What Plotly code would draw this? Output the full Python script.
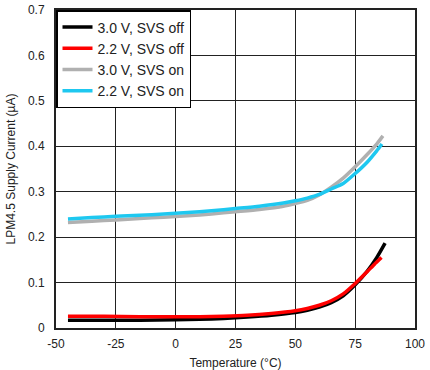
import plotly.graph_objects as go

temp_off = [-45, -30, -15, 0, 10, 20, 30, 40, 50, 55, 60, 65, 70, 75, 80, 84, 87.5]
i_30_off = [0.017, 0.017, 0.017, 0.018, 0.019, 0.021, 0.024, 0.028, 0.034, 0.039, 0.046, 0.056, 0.071, 0.095, 0.125, 0.155, 0.187]
temp_off22 = [-45, -30, -15, 0, 10, 20, 30, 40, 50, 55, 60, 65, 70, 75, 80, 83, 86]
i_22_off = [0.026, 0.026, 0.025, 0.025, 0.025, 0.026, 0.028, 0.032, 0.038, 0.043, 0.050, 0.060, 0.075, 0.098, 0.124, 0.140, 0.155]

temp_on30 = [-45, -35, -25, -15, -5, 5, 15, 25, 35, 45, 50, 55, 60, 65, 70, 75, 80, 84, 86.6]
i_30_on = [0.232, 0.235, 0.238, 0.241, 0.244, 0.247, 0.251, 0.256, 0.261, 0.268, 0.274, 0.281, 0.293, 0.310, 0.330, 0.355, 0.382, 0.405, 0.423]
temp_on22 = [-45, -35, -25, -15, -5, 5, 15, 25, 35, 45, 50, 55, 60, 65, 70, 75, 80, 84, 86.2]
i_22_on = [0.240, 0.243, 0.246, 0.248, 0.251, 0.254, 0.258, 0.263, 0.268, 0.275, 0.280, 0.286, 0.294, 0.306, 0.318, 0.340, 0.365, 0.390, 0.405]

names = ["3.0 V, SVS off", "2.2 V, SVS off", "3.0 V, SVS on", "2.2 V, SVS on"]
colors = ["#000000", "#ff0000", "#b0b0b0", "#1ec8f0"]

x_tickvals = [-50, -25, 0, 25, 50, 75, 100]
x_ticktext = ["-50", "-25", "0", "25", "50", "75", "100"]
y_tickvals = [0, 0.1, 0.2, 0.3, 0.4, 0.5, 0.6, 0.7]
y_ticktext = ["0", "0.1", "0.2", "0.3", "0.4", "0.5", "0.6", "0.7"]

fig = go.Figure()
series = [(temp_off, i_30_off), (temp_off22, i_22_off), (temp_on30, i_30_on), (temp_on22, i_22_on)]
for k, (x, y) in enumerate(series):
    fig.add_trace(go.Scatter(x=x, y=y, mode="lines", name=names[k],
                             line=dict(color=colors[k], width=3.5, shape="spline", smoothing=0.6),
                             legendgroup=str(k)))

fig.update_layout(
    width=430, height=370,
    margin=dict(l=56, r=15, t=10, b=42, autoexpand=False),
    paper_bgcolor="white", plot_bgcolor="white",
    font=dict(family="Liberation Sans, Arial, sans-serif", size=12, color="#222"),
    showlegend=True,
    legend=dict(x=0, y=1, xanchor="left", yanchor="top", bgcolor="white",
                bordercolor="black", borderwidth=1.5, traceorder="grouped",
                tracegroupgap=0, font=dict(size=14, color="#222")),
    xaxis=dict(range=[-50, 100], tickvals=x_tickvals, ticktext=x_ticktext, showgrid=True,
               gridcolor="#222", gridwidth=1, automargin=False,
               showline=True, linecolor="#222", linewidth=2, mirror=True, zeroline=False,
               ticks="", ticklabelstandoff=4,
               title=dict(text="Temperature (°C)", font=dict(size=12), standoff=9)),
    yaxis=dict(range=[0, 0.7], tickvals=y_tickvals, ticktext=y_ticktext, showgrid=True,
               gridcolor="#222", gridwidth=1, automargin=False,
               showline=True, linecolor="#222", linewidth=2, mirror=True, zeroline=False,
               ticks="", ticklabelstandoff=7,
               title=dict(text="LPM4.5 Supply Current (µA)", font=dict(size=12), standoff=10)),
)

fig.write_html("out.html", config={"displayModeBar": False},
               post_script="document.body.style.margin='0';document.body.style.overflow='hidden';")
